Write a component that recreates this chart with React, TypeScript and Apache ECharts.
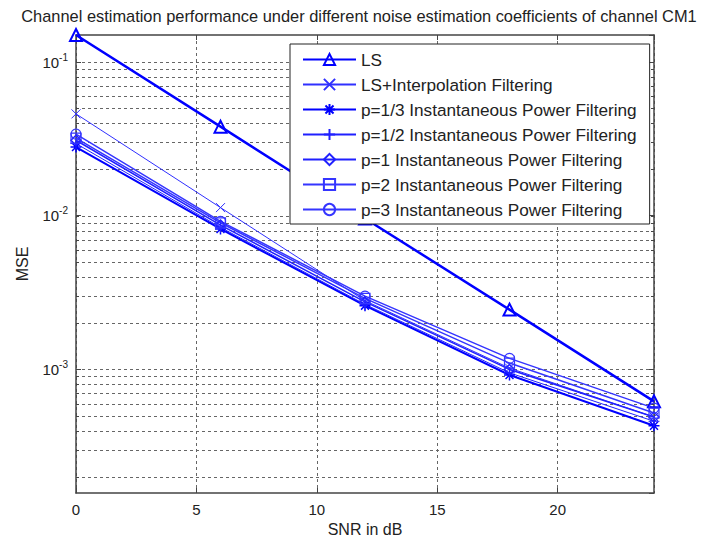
import React, { useEffect, useRef } from 'react';
import * as echarts from 'echarts';

const snr = [0, 6, 12, 18, 24];
const xTickStep = 5;
const seriesNames = [
  'LS',
  'LS+Interpolation Filtering',
  'p=1/3 Instantaneous Power Filtering',
  'p=1/2 Instantaneous Power Filtering',
  'p=1 Instantaneous Power Filtering',
  'p=2 Instantaneous Power Filtering',
  'p=3 Instantaneous Power Filtering',
];
const ls = [0.15, 0.038, 0.0096, 0.00245, 0.00062];
const lsInterp = [0.046, 0.0113, 0.0028, 0.00102, 0.00049];
const p13 = [0.028, 0.0082, 0.0026, 0.00092, 0.00043];
const p12 = [0.0295, 0.0084, 0.00265, 0.00095, 0.00046];
const p1 = [0.031, 0.0087, 0.00275, 0.001, 0.00049];
const p2 = [0.032, 0.009, 0.0029, 0.0011, 0.00052];
const p3 = [0.034, 0.0092, 0.003, 0.00118, 0.00056];
const yGridValues = [
  0.0002, 0.0003, 0.0004, 0.0005, 0.0006, 0.0007, 0.0008, 0.0009,
  0.001, 0.002, 0.003, 0.004, 0.005, 0.006, 0.007, 0.008, 0.009,
  0.01, 0.02, 0.03, 0.04, 0.05, 0.06, 0.07, 0.08, 0.09, 0.1,
];
const yMin = 0.000157;
const yMax = 0.15;
const xMin = 0;
const xMax = 24;

const FONT = '"Liberation Sans", Arial, Helvetica, sans-serif';
const BLUE = '#0000ff';
const XPATH = 'path://M-5,-5L5,5M-5,5L5,-5';
const PLUSPATH = 'path://M0,-5L0,5M-5,0L5,0';
const STARPATH = 'path://M0,-5L0,5M-5,0L5,0M-3.6,-3.6L3.6,3.6M-3.6,3.6L3.6,-3.6';

function mk(name: string, vals: number[], symbol: string, size: number, width: number, color: string, bw: number) {
  return {
    name,
    type: 'line',
    data: snr.map((x, i) => [x, vals[i]]),
    symbol,
    symbolSize: size,
    showSymbol: true,
    lineStyle: { color, width },
    itemStyle: { color: 'rgba(255,255,255,0)', borderColor: color, borderWidth: bw },
    emphasis: { disabled: true },
    z: 3,
  };
}

export default function App() {
  const ref = useRef<HTMLDivElement>(null);
  useEffect(() => {
    if (!ref.current) return;
    const chart = echarts.init(ref.current, undefined, { renderer: 'svg' });
    const axisLineStyle = { color: '#444', width: 1.5 };
    const yLabelFmt = (v: number) => {
      const l = Math.log10(v);
      const e = Math.round(l);
      if (Math.abs(l - e) > 1e-6) return '';
      return `{b|10}{s|${e}}`;
    };
    const option: any = {
      animation: false,
      backgroundColor: '#fff',
      textStyle: { fontFamily: FONT },
      title: {
        text: 'Channel estimation performance under different noise estimation coefficients of channel CM1',
        left: 'center',
        top: 3,
        textStyle: { fontSize: 16.4, fontWeight: 'normal', color: '#222', fontFamily: FONT },
      },
      grid: { left: 76, top: 35, width: 578, height: 458, containLabel: false },
      legend: {
        orient: 'vertical',
        left: 290,
        top: 44,
        padding: [7, 13, 6, 12],
        itemWidth: 53,
        itemHeight: 14,
        itemGap: 8,
        itemTextGap: 4,
        backgroundColor: '#fff',
        borderColor: '#222',
        borderWidth: 1,
        borderRadius: 0,
        textStyle: { fontSize: 17.2, color: '#222', fontFamily: FONT },
        data: seriesNames,
        selectedMode: false,
        z: 10,
      },
      xAxis: [
        {
          type: 'value',
          min: xMin,
          max: xMax,
          interval: xTickStep,
          position: 'bottom',
          axisLine: { show: true, onZero: false, lineStyle: axisLineStyle },
          axisTick: { show: true, inside: true, length: 5, lineStyle: { color: '#444' } },
          axisLabel: { fontSize: 15, color: '#222', margin: 9, showMaxLabel: false, fontFamily: FONT },
          splitLine: { show: true, lineStyle: { type: [3, 3], color: '#666', width: 1 } },
          name: 'SNR in dB',
          nameLocation: 'middle',
          nameGap: 28,
          nameTextStyle: { fontSize: 16, color: '#222', fontFamily: FONT },
        },
        {
          type: 'value',
          min: xMin,
          max: xMax,
          interval: xTickStep,
          position: 'top',
          axisLine: { show: true, onZero: false, lineStyle: axisLineStyle },
          axisTick: { show: true, inside: true, length: 5, lineStyle: { color: '#444' } },
          axisLabel: { show: false },
          splitLine: { show: false },
        },
      ],
      yAxis: [
        {
          type: 'log',
          logBase: 10,
          min: yMin,
          max: yMax,
          position: 'left',
          axisLine: { show: true, onZero: false, lineStyle: axisLineStyle },
          axisTick: { show: true, inside: true, length: 5, lineStyle: { color: '#444' } },
          axisLabel: {
            formatter: yLabelFmt,
            showMinLabel: false,
            showMaxLabel: false,
            margin: 8,
            color: '#222',
            rich: {
              b: { fontSize: 15, color: '#222', fontFamily: FONT },
              s: { fontSize: 10, color: '#222', fontFamily: FONT, padding: [0, 0, 10, 0] },
            },
          },
          splitLine: { show: false },
          name: 'MSE',
          nameLocation: 'middle',
          nameGap: 46,
          nameTextStyle: { fontSize: 16, color: '#222', fontFamily: FONT },
        },
        {
          type: 'log',
          logBase: 10,
          min: yMin,
          max: yMax,
          position: 'right',
          axisLine: { show: true, onZero: false, lineStyle: axisLineStyle },
          axisTick: { show: true, inside: true, length: 5, lineStyle: { color: '#444' } },
          axisLabel: { show: false },
          splitLine: { show: false },
        },
      ],
      series: [
        {
          name: 'grid',
          type: 'custom',
          data: yGridValues.map((v) => [xMin, v]),
          encode: { x: 0, y: 1 },
          z: 1,
          silent: true,
          clip: false,
          renderItem: (params: any, api: any) => {
            const v = api.value(1);
            const a = api.coord([xMin, v]);
            const b = api.coord([xMax, v]);
            const y = Math.round(a[1]) + 0.5;
            return {
              type: 'group',
              children: [
                {
                  type: 'line',
                  shape: { x1: a[0], y1: y, x2: b[0], y2: y },
                  style: { stroke: '#666', lineWidth: 1, lineDash: [3, 3] },
                },
                {
                  type: 'line',
                  shape: { x1: a[0], y1: y, x2: a[0] + 3, y2: y },
                  style: { stroke: '#444', lineWidth: 1 },
                },
                {
                  type: 'line',
                  shape: { x1: b[0] - 3, y1: y, x2: b[0], y2: y },
                  style: { stroke: '#444', lineWidth: 1 },
                },
              ],
            };
          },
        },
        mk(seriesNames[0], ls, 'triangle', 12, 2.5, BLUE, 2),
        mk(seriesNames[1], lsInterp, XPATH, 9, 1, '#3030ff', 1),
        mk(seriesNames[2], p13, STARPATH, 11, 2, BLUE, 1.5),
        mk(seriesNames[3], p12, PLUSPATH, 11, 1, '#2020ff', 1),
        mk(seriesNames[4], p1, 'diamond', 10, 1.5, '#2020ff', 1.5),
        mk(seriesNames[5], p2, 'rect', 10, 1.5, '#3535ff', 1.2),
        mk(seriesNames[6], p3, 'circle', 10, 1.5, '#3535ff', 1.2),
      ],
    };
    chart.setOption(option);
    return () => chart.dispose();
  }, []);
  return (
    <div
      ref={ref}
      style={{ position: 'fixed', left: 0, top: 0, width: 718, height: 543 }}
    />
  );
}
